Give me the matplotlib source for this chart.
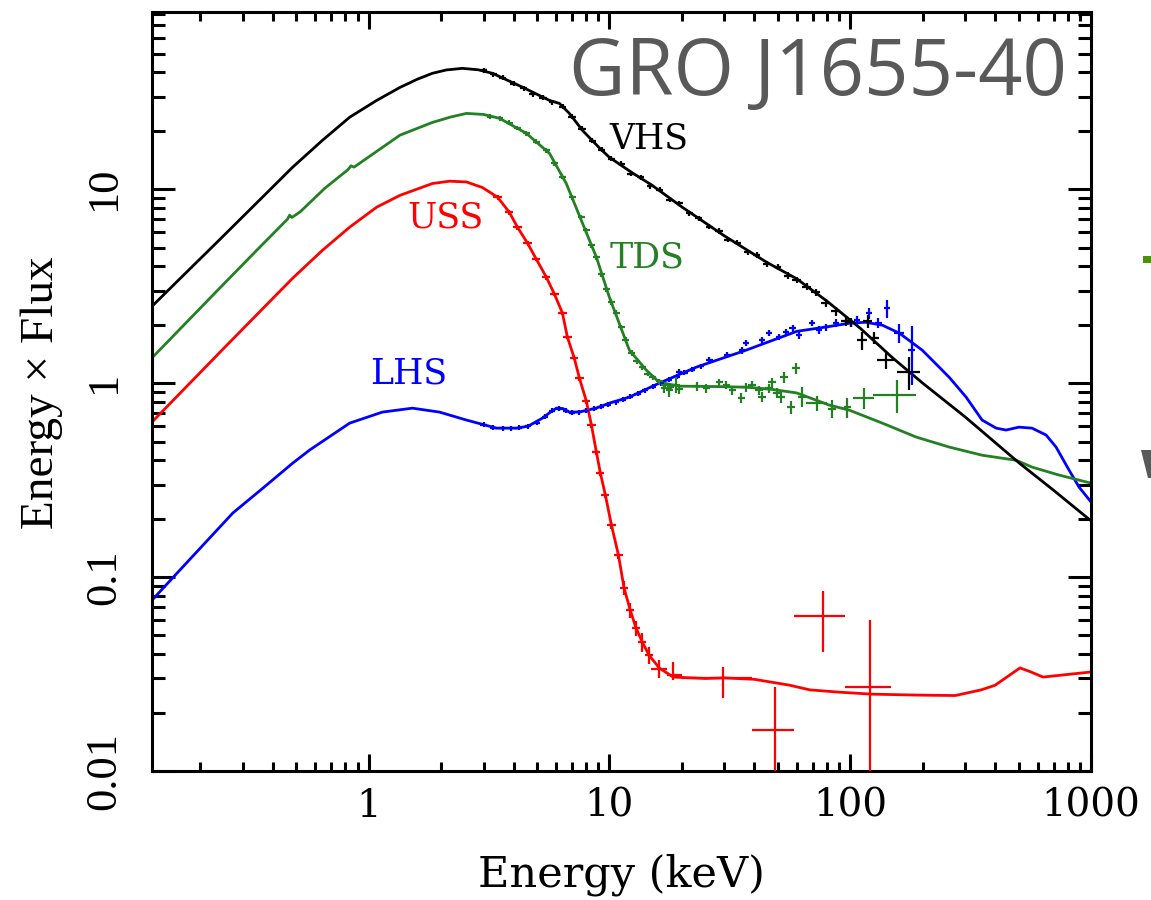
import matplotlib
matplotlib.use("Agg")
import matplotlib.pyplot as plt
from matplotlib.ticker import LogLocator, FuncFormatter, NullFormatter
from matplotlib.patches import Polygon, Rectangle

# ---------------- model spectra (E in keV, E x Flux) ----------------
vhs_model_e = [0.126, 0.169, 0.234, 0.353, 0.484, 0.644, 0.834, 1.08, 1.35, 1.6, 1.84, 2.1,
               2.45, 2.85, 3.27, 4.35, 5.64, 6.2, 6.82, 7.73, 9.1, 10.0, 12.5, 15, 20, 30,
               45, 60, 80, 110, 150, 200, 300, 500, 700, 1000]
vhs_model_f = [2.49, 3.57, 5.31, 8.81, 13.0, 17.9, 23.5, 28.7, 33.5, 37.0, 39.6, 41.2, 42.0,
               41.3, 39.6, 33.6, 28.7, 27.7, 24.6, 20.1, 16.3, 14.6, 12.1, 10.5, 8.1, 5.75,
               4.2, 3.45, 2.65, 1.92, 1.35, 1.0, 0.67, 0.39, 0.28, 0.195]

tds_model_e = [0.126, 0.234, 0.35, 0.46, 0.47, 0.48, 0.52, 0.657, 0.82, 0.845, 0.87, 1.35,
               1.84, 2.2, 2.55, 3.0, 3.5, 4.52, 5.64, 6.62, 7.73, 8.83, 10.0, 12.1, 14.2,
               16.1, 19.5, 28, 37, 47, 60, 82, 99, 136, 188, 258, 353, 490, 569, 735, 1000]
tds_model_f = [1.35, 2.98, 4.97, 7.0, 7.35, 7.15, 7.65, 10.1, 12.6, 13.2, 13.0, 19.0, 22.1,
               23.6, 24.6, 24.3, 23.2, 19.4, 15.3, 10.7, 6.68, 4.46, 2.77, 1.48, 1.17, 1.01,
               0.965, 0.96, 0.953, 0.93, 0.89, 0.77, 0.726, 0.622, 0.527, 0.468, 0.425,
               0.40, 0.369, 0.336, 0.305]

uss_model_e = [0.126, 0.25, 0.484, 0.644, 0.834, 1.08, 1.35, 1.84, 2.17, 2.55, 2.97, 3.43,
               3.84, 4.15, 4.57, 4.97, 5.47, 5.91, 6.38, 6.69, 7.14, 7.51, 8.02, 8.42, 8.83,
               9.17, 9.62, 10.2, 10.9, 11.5, 12.2, 12.9, 13.7, 14.6, 16.1, 18.4, 25, 30,
               40, 56, 68, 90, 123, 200, 273, 350, 400, 507, 560, 632, 1000]
uss_model_f = [0.63, 1.51, 3.48, 4.85, 6.37, 8.08, 9.3, 10.7, 11.0, 10.9, 10.2, 9.1, 7.61,
               6.37, 5.27, 4.36, 3.52, 2.88, 2.30, 1.73, 1.35, 1.06, 0.807, 0.608, 0.441,
               0.344, 0.265, 0.185, 0.130, 0.088, 0.0676, 0.0546, 0.0462, 0.0396, 0.034,
               0.0305, 0.0300, 0.0302, 0.0297, 0.0277, 0.0262, 0.0255, 0.0249, 0.0246,
               0.0245, 0.0262, 0.0277, 0.034, 0.0325, 0.0305, 0.0324]

lhs_model_e = [0.126, 0.18, 0.273, 0.37, 0.484, 0.569, 0.834, 1.14, 1.52, 1.97, 2.55, 3.40,
               4.11, 4.6, 5.27, 5.7, 6.02, 6.4, 6.82, 7.5, 8.8, 10.0, 12.1, 16.1, 23, 37,
               60, 82, 100, 116, 136, 160, 199, 234, 258, 303, 353, 404, 444, 502, 569,
               651, 716, 811, 892, 1000]
lhs_model_f = [0.076, 0.1226, 0.214, 0.2925, 0.387, 0.452, 0.622, 0.709, 0.743, 0.709,
               0.645, 0.586, 0.586, 0.60, 0.66, 0.71, 0.743, 0.74, 0.709, 0.71, 0.743,
               0.789, 0.847, 1.0, 1.21, 1.48, 1.85, 1.96, 2.04, 2.06, 1.99, 1.81, 1.48,
               1.21, 1.07, 0.847, 0.645, 0.586, 0.573, 0.593, 0.586, 0.54, 0.468, 0.356,
               0.291, 0.244]

# ---------------- measured points ----------------
vhs_pca_e = [3.0, 3.3, 3.6, 4.0, 4.4, 4.8, 5.3, 5.8, 6.4, 7.0, 7.7, 8.5, 9.3, 10.2, 11.2,
             12.3, 13.5, 14.8, 16.2, 17.8, 19.5, 21.5, 23.5, 26.0, 28.5, 31.0, 34.0, 37.5,
             41.0, 45.0, 50.0, 55.0]
vhs_pca_f = [41.0, 39.1, 37.6, 35.0, 33.2, 31.0, 29.6, 28.0, 26.6, 23.6, 20.5, 17.8, 16.0,
             14.4, 13.5, 12.0, 11.5, 10.4, 9.95, 8.85, 8.45, 7.5, 7.1, 6.4, 6.1, 5.5, 5.3,
             4.72, 4.58, 4.12, 3.97, 3.58]
vhs_pca_de = [0.10, 0.12, 0.13, 0.14, 0.15, 0.17, 0.19, 0.20, 0.22, 0.25, 0.27, 0.30, 0.33,
              0.36, 0.39, 0.43, 0.47, 0.52, 0.57, 0.62, 0.68, 0.75, 0.82, 0.91, 1.0, 1.1,
              1.2, 1.3, 1.4, 1.6, 1.75, 1.9]
vhs_pca_df = [1.2, 1.2, 1.1, 1.1, 1.0, 1.0, 0.9, 0.85, 0.8, 0.7, 0.6, 0.55, 0.5, 0.45, 0.4,
              0.37, 0.34, 0.32, 0.3, 0.27, 0.25, 0.23, 0.21, 0.2, 0.19, 0.18, 0.17, 0.16,
              0.16, 0.15, 0.15, 0.15]

vhs_hx_e = [60, 66, 72, 79, 87, 96, 101, 112, 118, 126, 141, 176]
vhs_hx_f = [3.4, 3.15, 2.95, 2.6, 2.35, 2.1, 2.06, 1.66, 2.08, 1.71, 1.31, 1.14]
vhs_hx_de = [2.5, 2.8, 3.0, 3.3, 3.6, 4.0, 4.0, 5.0, 5.0, 5.5, 11.5, 19.0]
vhs_hx_df = [0.12, 0.12, 0.12, 0.12, 0.12, 0.12, 0.12, 0.18, 0.16, 0.12, 0.13, 0.22]

tds_pca_e = [3.2, 3.5, 3.84, 4.15, 4.52, 4.97, 5.47, 5.91, 6.38, 7.02, 7.65, 8.02, 8.42,
             8.83, 9.27, 9.72, 10.2, 10.7, 11.2, 11.7, 12.4, 13.0, 13.7, 14.4, 15.1, 16.1,
             17.0, 18.0]
tds_pca_f = [23.6, 23.2, 22.0, 20.7, 19.4, 17.6, 15.9, 13.6, 11.6, 9.1, 7.17, 6.15, 5.14,
             4.46, 3.65, 3.05, 2.62, 2.30, 1.94, 1.67, 1.43, 1.30, 1.21, 1.12, 1.07, 1.02,
             0.98, 0.96]
tds_pca_de = [0.11, 0.12, 0.13, 0.15, 0.16, 0.17, 0.19, 0.21, 0.22, 0.25, 0.27, 0.28, 0.29,
              0.31, 0.32, 0.34, 0.36, 0.37, 0.39, 0.41, 0.43, 0.46, 0.48, 0.5, 0.53, 0.56,
              0.6, 0.63]
tds_pca_df = [0.7, 0.7, 0.65, 0.6, 0.55, 0.5, 0.45, 0.4, 0.33, 0.27, 0.22, 0.19, 0.16, 0.13,
              0.11, 0.09, 0.08, 0.07, 0.06, 0.05, 0.045, 0.04, 0.04, 0.035, 0.035, 0.035,
              0.035, 0.035]

tds_hx_e = [16.9, 17.7, 18.9, 19.5, 23.0, 25.3, 28.6, 30.6, 32.4, 35.3, 37.0, 39.2, 41.9,
            43.1, 46.0, 47.4, 49.7, 51.6, 53.2, 56.9, 59.6, 63.1, 72.8, 84.1, 97.3, 114, 156]
tds_hx_f = [0.94, 0.92, 0.98, 0.93, 0.965, 0.94, 1.01, 0.98, 0.92, 0.84, 0.95, 0.98, 0.92,
            0.85, 0.94, 1.01, 0.89, 0.85, 1.07, 0.75, 1.19, 0.85, 0.79, 0.74, 0.75, 0.84,
            0.87]
tds_hx_de = [0.6, 0.6, 0.7, 0.7, 0.8, 0.9, 1.0, 1.1, 1.1, 1.2, 1.3, 1.4, 1.5, 1.5, 1.6, 1.7,
             1.7, 1.8, 1.9, 2.0, 2.1, 2.2, 7.0, 3.0, 3.4, 11, 32]
tds_hx_df = [0.05, 0.07, 0.09, 0.05, 0.05, 0.05, 0.04, 0.05, 0.05, 0.05, 0.05, 0.05, 0.05,
             0.05, 0.05, 0.05, 0.05, 0.06, 0.07, 0.06, 0.08, 0.10, 0.07, 0.08, 0.09, 0.10,
             0.17]

uss_pca_e = [3.43, 3.84, 4.15, 4.57, 4.97, 5.47, 5.91, 6.38, 6.69, 7.14, 7.51, 8.02, 8.42,
             8.83, 9.17, 9.62, 10.2, 10.9, 11.5, 12.2, 12.9, 13.7, 14.6]
uss_pca_f = [9.1, 7.61, 6.37, 5.27, 4.36, 3.52, 2.88, 2.30, 1.73, 1.35, 1.06, 0.807, 0.608,
             0.441, 0.344, 0.265, 0.185, 0.130, 0.088, 0.0676, 0.0546, 0.0462, 0.0396]
uss_pca_de = [0.14, 0.15, 0.17, 0.18, 0.2, 0.22, 0.24, 0.26, 0.27, 0.29, 0.3, 0.32, 0.34,
              0.35, 0.37, 0.38, 0.41, 0.44, 0.46, 0.49, 0.52, 0.55, 0.58]
uss_pca_df = [0.25, 0.21, 0.18, 0.15, 0.12, 0.1, 0.08, 0.065, 0.05, 0.04, 0.032, 0.025,
              0.019, 0.014, 0.011, 0.009, 0.007, 0.006, 0.007, 0.006, 0.005, 0.005, 0.004]

uss_hx_e = [16.1, 18.4, 29.7, 48.9, 77.3, 121]
uss_hx_f = [0.0336, 0.0313, 0.030, 0.0163, 0.063, 0.0271]
uss_hx_de_lo = [1.2, 1.0, 9.6, 9.7, 18.7, 26]
uss_hx_de_hi = [1.3, 1.7, 9.5, 9.7, 18.0, 27]
uss_hx_df_lo = [0.0034, 0.0017, 0.0062, 0.0113, 0.022, 0.022]
uss_hx_df_hi = [0.0039, 0.0052, 0.0044, 0.0108, 0.0217, 0.033]

lhs_pca_e = [3.0, 3.3, 3.6, 3.9, 4.2, 4.6, 5.0, 5.4, 5.8, 6.2, 6.6, 7.0, 7.5, 8.0, 8.6, 9.2,
             9.9, 10.6, 11.4, 12.2, 13.1, 14.1, 15.2, 16.4, 17.7, 19.0, 20.5, 22.0, 24.0]
lhs_pca_f = [0.61, 0.59, 0.585, 0.586, 0.59, 0.60, 0.625, 0.67, 0.72, 0.74, 0.72, 0.705,
             0.71, 0.72, 0.74, 0.755, 0.775, 0.795, 0.82, 0.85, 0.88, 0.92, 0.96, 1.00, 1.04,
             1.08, 1.13, 1.17, 1.22]
lhs_pca_de = [0.09, 0.1, 0.11, 0.12, 0.13, 0.14, 0.15, 0.16, 0.17, 0.19, 0.2, 0.21, 0.23,
              0.24, 0.26, 0.28, 0.3, 0.32, 0.34, 0.37, 0.39, 0.42, 0.46, 0.49, 0.53, 0.57,
              0.62, 0.66, 0.72]
lhs_pca_df = [0.018, 0.018, 0.017, 0.018, 0.018, 0.018, 0.019, 0.02, 0.021, 0.022, 0.022,
              0.021, 0.021, 0.021, 0.022, 0.023, 0.023, 0.024, 0.025, 0.026, 0.026, 0.028,
              0.029, 0.03, 0.031, 0.032, 0.034, 0.035, 0.037]

lhs_hx_e = [19.5, 26.0, 30.9, 35.6, 37.0, 43.1, 46.0, 50.7, 54.2, 57.6, 61.4, 69.5, 74.3,
            79.5, 87.5, 101, 107, 120, 131, 142, 160, 180]
lhs_hx_f = [1.14, 1.31, 1.39, 1.48, 1.61, 1.67, 1.81, 1.73, 1.83, 1.92, 1.77, 2.04, 1.88,
            1.94, 2.04, 2.04, 2.11, 2.29, 2.04, 2.43, 1.81, 1.48]
lhs_hx_de = [0.6, 0.8, 1.0, 1.1, 1.1, 1.3, 1.4, 1.5, 1.7, 1.8, 1.9, 2.1, 2.3, 2.4, 2.7, 3.1,
             3.3, 3.7, 4.0, 4.4, 8.0, 6.0]
lhs_hx_df = [0.04, 0.05, 0.05, 0.06, 0.06, 0.06, 0.07, 0.07, 0.07, 0.08, 0.08, 0.08, 0.08,
             0.09, 0.09, 0.1, 0.12, 0.16, 0.12, 0.25, 0.2, 0.5]

x_ticks = [1, 10, 100, 1000]
y_ticks = [0.01, 0.1, 1, 10]

BLACK = "black"
GREEN = "#238023"
RED = "#ff0000"
BLUE = "#0000ff"
GREY = "#595959"

# ---------------- figure ----------------
W, H, DPI = 1151, 900, 100
fig = plt.figure(figsize=(W / DPI, H / DPI), dpi=DPI)
fig.patch.set_facecolor("white")


def fx(px):
    return px / W


def fy(py):
    return 1 - py / H


ax = fig.add_axes([fx(152), fy(771), fx(1091) - fx(152), fy(12) - fy(771)])
ax.set_xscale("log")
ax.set_yscale("log")
ax.set_xlim(0.126, 1000)
ax.set_ylim(0.01, 82)

LW = 2.0
ELW = 1.6


def errs(e, f, de, df, color, lw=ELW):
    ax.errorbar(e, f, xerr=de, yerr=df, fmt="none", ecolor=color,
                elinewidth=lw, capsize=0, zorder=3)


# LHS
ax.plot(lhs_model_e, lhs_model_f, color=BLUE, lw=LW, zorder=2)
errs(lhs_pca_e, lhs_pca_f, lhs_pca_de, lhs_pca_df, BLUE)
errs(lhs_hx_e, lhs_hx_f, lhs_hx_de, lhs_hx_df, BLUE)

# TDS
ax.plot(tds_model_e, tds_model_f, color=GREEN, lw=LW, zorder=2)
errs(tds_pca_e, tds_pca_f, tds_pca_de, tds_pca_df, GREEN)
errs(tds_hx_e, tds_hx_f, tds_hx_de, tds_hx_df, GREEN)

# USS
ax.plot(uss_model_e, uss_model_f, color=RED, lw=LW, zorder=2)
errs(uss_pca_e, uss_pca_f, uss_pca_de, uss_pca_df, RED)
ax.errorbar(uss_hx_e, uss_hx_f, xerr=[uss_hx_de_lo, uss_hx_de_hi],
            yerr=[uss_hx_df_lo, uss_hx_df_hi], fmt="none", ecolor=RED,
            elinewidth=ELW, capsize=0, zorder=3)

# VHS
ax.plot(vhs_model_e, vhs_model_f, color=BLACK, lw=LW, zorder=2)
errs(vhs_pca_e, vhs_pca_f, vhs_pca_de, vhs_pca_df, BLACK)
errs(vhs_hx_e, vhs_hx_f, vhs_hx_de, vhs_hx_df, BLACK)

# state names
label_kw = dict(family="DejaVu Serif", fontsize=25, va="baseline", ha="left")
ax.text(10.0, 16.3, "VHS", color=BLACK, **label_kw)
ax.text(1.45, 6.37, "USS", color=RED, **label_kw)
ax.text(10.0, 3.96, "TDS", color=GREEN, **label_kw)
ax.text(1.01, 1.0, "LHS", color=BLUE, **label_kw)

# axes styling
for s in ax.spines.values():
    s.set_linewidth(2.2)
ax.xaxis.set_minor_locator(LogLocator(base=10, subs=range(2, 10), numticks=20))
ax.yaxis.set_minor_locator(LogLocator(base=10, subs=range(2, 10), numticks=20))
ax.set_xticks(x_ticks)
ax.set_yticks(y_ticks)
ax.xaxis.set_major_formatter(FuncFormatter(lambda v, p: "%g" % v))
ax.yaxis.set_major_formatter(FuncFormatter(lambda v, p: "%g" % v))
ax.xaxis.set_minor_formatter(NullFormatter())
ax.yaxis.set_minor_formatter(NullFormatter())

ax.tick_params(which="both", direction="in", top=True, right=True, width=2.2)
ax.tick_params(axis="x", which="major", length=12, pad=12)
ax.tick_params(axis="x", which="minor", length=6.5)
ax.tick_params(axis="y", which="major", length=16.5, pad=20)
ax.tick_params(axis="y", which="minor", length=9.4)

for lab in ax.get_xticklabels():
    lab.set_fontfamily("DejaVu Serif")
    lab.set_fontsize(28)
for lab in ax.get_yticklabels():
    lab.set_fontfamily("Liberation Serif")
    lab.set_fontsize(32)
    lab.set_rotation(90)
    lab.set_va("center")

# axis titles
fig.text(fx(621), fy(886), "Energy (keV)", family="DejaVu Serif", fontsize=31,
         ha="center", va="baseline")
fig.text(fx(53), fy(393), "Energy \u00d7 Flux", family="Liberation Serif", fontsize=34,
         rotation=90, rotation_mode="anchor", ha="center", va="baseline")

# source name
fig.text(fx(1067), fy(95), "GRO J1655-40", family="Open Sans", fontsize=56,
         color=GREY, ha="right", va="baseline")

# slide elements continuing past the right edge
fig.patches.append(Rectangle((fx(1143), fy(263)), fx(1151) - fx(1143), fy(256) - fy(263),
                             transform=fig.transFigure, facecolor="#4e8f0c",
                             edgecolor="none"))
fig.patches.append(Polygon([(fx(1141), fy(450)), (fx(1151), fy(450)), (fx(1151), fy(478)),
                            (fx(1148), fy(478))], closed=True, transform=fig.transFigure,
                           facecolor=GREY, edgecolor="none"))

fig.savefig("out.png", dpi=DPI, facecolor="white")
